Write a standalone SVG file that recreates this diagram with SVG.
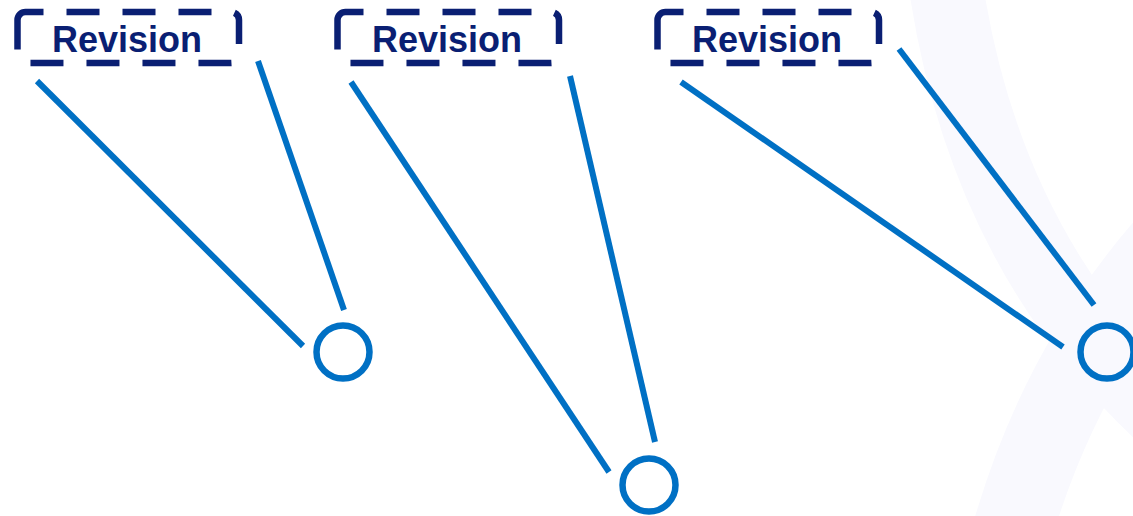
<svg xmlns="http://www.w3.org/2000/svg" width="1133" height="516" viewBox="0 0 1133 516">
  <style>
    .box { fill: none; stroke: #0a1f73; stroke-width: 6.5; stroke-dasharray: 18 23 33 23 33 23 33 23 33 23 33 23 33 23 33 23 33 23 50 100; }
    .lbl { font-family: "Liberation Sans", Arial, sans-serif; font-weight: bold; font-size: 36px; fill: #0a1f73; }
    .conn line { stroke: #0070c4; stroke-width: 6; }
    .node { fill: none; stroke: #0070c4; stroke-width: 6.5; }
    .bg { fill: none; stroke: #f9f9fe; }
  </style>
  <rect width="1133" height="516" fill="#ffffff"/>
  <g id="background">
    <path class="bg" d="M 945 -20 Q 985 260 1180 430" stroke-width="74"/>
    <path class="bg" d="M 1010 540 Q 1060 360 1180 230" stroke-width="80"/>
  </g>
  <g id="connectors" class="conn">
    <line x1="37" y1="81" x2="303" y2="346"/>
    <line x1="258" y1="61" x2="344" y2="310"/>
    <line x1="351" y1="82" x2="609" y2="472"/>
    <line x1="570" y1="76" x2="655" y2="442"/>
    <line x1="681" y1="82" x2="1063" y2="347"/>
    <line x1="899" y1="49" x2="1094" y2="305"/>
  </g>
  <g id="label1">
    <rect class="box" x="17.5" y="12" width="221.5" height="51" rx="8"/>
    <text class="lbl" x="52" y="52">Revision</text>
  </g>
  <g id="label2">
    <rect class="box" x="337.5" y="12" width="221.5" height="51" rx="8"/>
    <text class="lbl" x="372" y="52">Revision</text>
  </g>
  <g id="label3">
    <rect class="box" x="657.5" y="12" width="221.5" height="51" rx="8"/>
    <text class="lbl" x="692" y="52">Revision</text>
  </g>
  <g id="node1"><circle class="node" cx="343" cy="352" r="26.5"/></g>
  <g id="node2"><circle class="node" cx="649" cy="485" r="26.5"/></g>
  <g id="node3"><circle class="node" cx="1107" cy="352" r="26.5"/></g>
</svg>
